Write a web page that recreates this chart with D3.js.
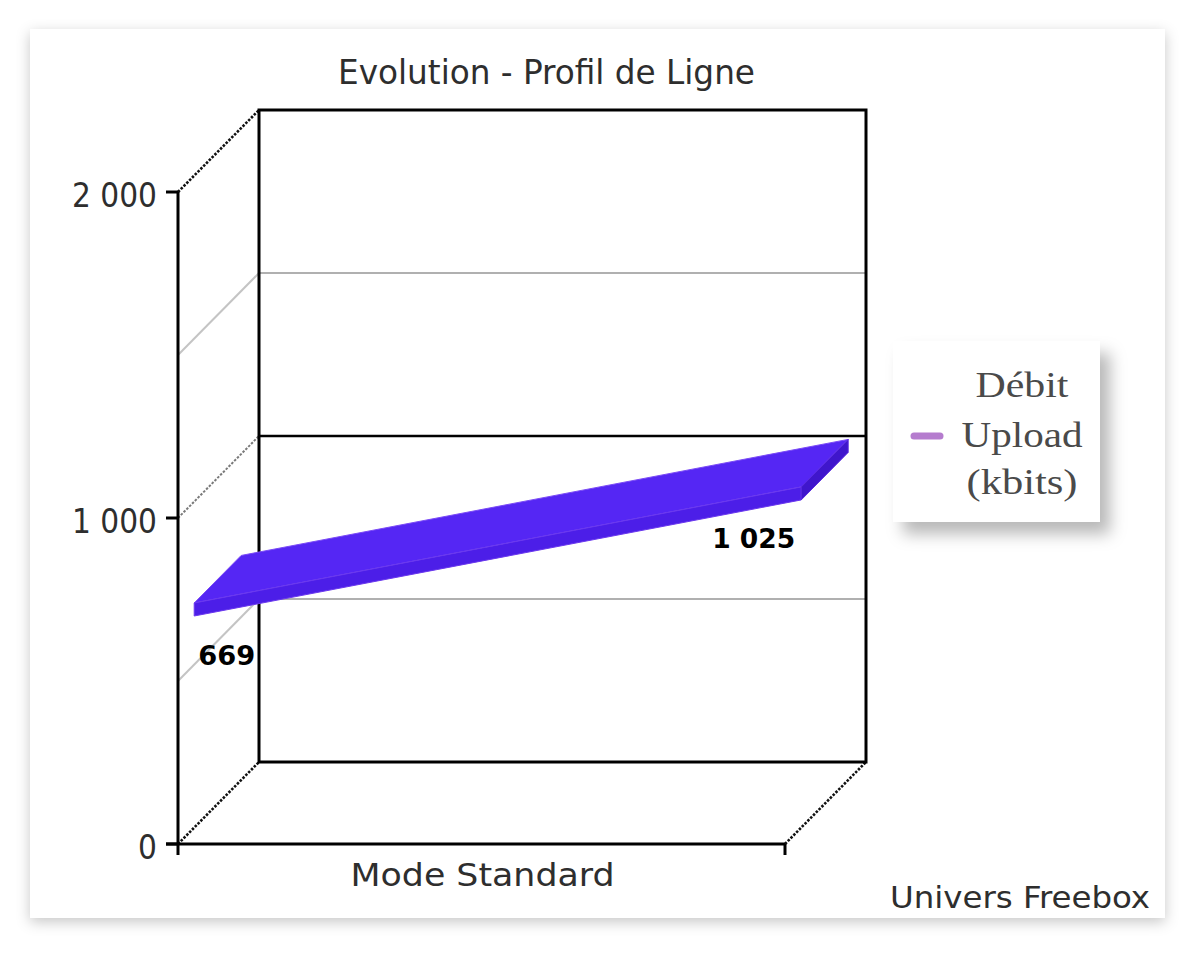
<!DOCTYPE html>
<html>
<head>
<meta charset="utf-8">
<script src="https://cdn.jsdelivr.net/npm/d3@7"></script>
<style>
  html, body { margin: 0; padding: 0; background: #ffffff; }
  svg { display: block; }
</style>
</head>
<body>
<svg id="chart" width="1200" height="953"></svg>
<script>
// ---- data ----
const title = "Evolution - Profil de Ligne";
const categories = ["Mode Standard"];
const seriesName = ["Débit", "Upload", "(kbits)"];
const uploadValues = [669, 1025];
const yTickValues = [0, 500, 1000, 1500, 2000];
const yLabelValues = [0, 1000, 2000];
const credit = "Univers Freebox";

// ---- setup ----
const svg = d3.select("#chart");
const fr = d3.formatLocale({decimal: ",", thousands: " ", grouping: [3], currency: ["", " €"]});
const fmt = fr.format(",d");

const defs = svg.append("defs");
const f1 = defs.append("filter").attr("id", "panelShadow").attr("x", "-10%").attr("y", "-10%").attr("width", "120%").attr("height", "120%");
f1.append("feDropShadow").attr("dx", 0).attr("dy", 4).attr("stdDeviation", 7).attr("flood-color", "#000").attr("flood-opacity", 0.22);
const f2 = defs.append("filter").attr("id", "legShadow").attr("x", "-20%").attr("y", "-20%").attr("width", "150%").attr("height", "150%");
f2.append("feDropShadow").attr("dx", 10).attr("dy", 12).attr("stdDeviation", 8).attr("flood-color", "#000").attr("flood-opacity", 0.28);

// panel
svg.append("rect").attr("x", 30).attr("y", 29).attr("width", 1135).attr("height", 889)
  .attr("fill", "#fff").attr("filter", "url(#panelShadow)");

// 3D geometry
const DX = 81, DY = -82;
const x = d3.scaleLinear().domain([0, uploadValues.length - 1]).range([178, 785]);
const y = d3.scaleLinear().domain([0, 2000]).range([844, 192]);
const P = (xv, yv, z) => [xv + DX * z, yv + DY * z];

const sans = "'DejaVu Sans Condensed', 'Liberation Sans Narrow', sans-serif";
const textCol = "#2e2e2e";

// title
svg.append("text").attr("x", 338).attr("y", 84).attr("font-family", sans).attr("font-size", 34)
  .attr("fill", textCol).attr("textLength", 417).attr("lengthAdjust", "spacingAndGlyphs").text(title);

const g = svg.append("g");
const x0 = x.range()[0], x1 = x.range()[1];

// back wall gridlines
yTickValues.filter(v => v > 0 && v < 2000).forEach(v => {
  const a = P(x0, y(v), 1), b = P(x1, y(v), 1);
  g.append("line").attr("x1", a[0]).attr("y1", a[1]).attr("x2", b[0]).attr("y2", b[1])
    .attr("stroke", v === 1000 ? "#000" : "#b0b0b0").attr("stroke-width", v === 1000 ? 2.6 : 2);
});

// side wall diagonals
yTickValues.forEach(v => {
  const a = P(x0, y(v), 0), b = P(x0, y(v), 1);
  const edge = (v === 0 || v === 2000);
  g.append("line").attr("x1", a[0]).attr("y1", a[1]).attr("x2", b[0]).attr("y2", b[1])
    .attr("stroke", edge ? "#111" : (v === 1000 ? "#7a7a7a" : "#c4c4c4"))
    .attr("stroke-width", edge ? 2.6 : 2)
    .attr("stroke-dasharray", edge || v === 1000 ? "2.5,1.5" : null);
});
// floor right diagonal
{
  const a = P(x1, y(0), 0), b = P(x1, y(0), 1);
  g.append("line").attr("x1", a[0]).attr("y1", a[1]).attr("x2", b[0]).attr("y2", b[1])
    .attr("stroke", "#111").attr("stroke-width", 2.6).attr("stroke-dasharray", "2.5,1.5");
}

// back wall rectangle
{
  const tl = P(x0, y(2000), 1), br = P(x1, y(0), 1);
  g.append("rect").attr("x", tl[0]).attr("y", tl[1]).attr("width", br[0] - tl[0]).attr("height", br[1] - tl[1])
    .attr("fill", "none").attr("stroke", "#000").attr("stroke-width", 3);
}

// front axes
g.append("line").attr("x1", x0).attr("y1", y(2000)).attr("x2", x0).attr("y2", y(0) + 11)
  .attr("stroke", "#000").attr("stroke-width", 3);
g.append("line").attr("x1", x0 - 12).attr("y1", y(0)).attr("x2", x1).attr("y2", y(0))
  .attr("stroke", "#000").attr("stroke-width", 3);
g.append("line").attr("x1", x1).attr("y1", y(0)).attr("x2", x1).attr("y2", y(0) + 11)
  .attr("stroke", "#000").attr("stroke-width", 3);
yLabelValues.forEach(v => {
  g.append("line").attr("x1", x0 - 12).attr("y1", y(v)).attr("x2", x0).attr("y2", y(v))
    .attr("stroke", "#000").attr("stroke-width", 3);
  g.append("text").attr("x", 157).attr("y", y(v) + 15).attr("text-anchor", "end")
    .attr("font-family", sans).attr("font-size", 33).attr("fill", textCol).text(fmt(v));
});

// category label
svg.append("text").attr("x", (x0 + x1) / 2 + 1).attr("y", 886).attr("text-anchor", "middle")
  .attr("font-family", sans).attr("font-size", 32).attr("fill", textCol)
  .attr("textLength", 264).attr("lengthAdjust", "spacingAndGlyphs").text(categories[0]);

// ribbon
const z1 = 0.2, z2 = 0.78, half = 6.5;
const n = uploadValues.length;
const front = uploadValues.map((v, i) => P(x(i), y(v), z1));
const back = uploadValues.map((v, i) => P(x(i), y(v), z2));
const rib = svg.append("g");
const topPts = front.map(p => [p[0], p[1] - half]).concat(back.slice().reverse().map(p => [p[0], p[1] - half]));
rib.append("path").attr("d", d3.line()(topPts) + "Z").attr("fill", "#5526f4").attr("stroke", "#7a4af6").attr("stroke-width", 1);
const frontPts = front.map(p => [p[0], p[1] - half]).concat(front.slice().reverse().map(p => [p[0], p[1] + half]));
rib.append("path").attr("d", d3.line()(frontPts) + "Z").attr("fill", "#4c1ee8").attr("stroke", "#6a38ee").attr("stroke-width", 1);
{
  const f = front[n - 1], b = back[n - 1];
  const pts = [[f[0], f[1] - half], [b[0], b[1] - half], [b[0], b[1] + half], [f[0], f[1] + half]];
  rib.append("path").attr("d", d3.line()(pts) + "Z").attr("fill", "#3f16cc").attr("stroke", "#5a2ae0").attr("stroke-width", 1);
}

// data labels
uploadValues.forEach((v, i) => {
  const p = front[i];
  const first = i === 0;
  svg.append("text").attr("x", first ? p[0] + 4 : p[0] - 6).attr("y", p[1] + 55)
    .attr("text-anchor", first ? "start" : "end")
    .attr("font-family", "'DejaVu Sans', sans-serif").attr("font-weight", "bold")
    .attr("font-size", 27).attr("fill", "#000")
    .attr("textLength", first ? 57 : 83).attr("lengthAdjust", "spacingAndGlyphs").text(fmt(v));
});

// legend
const leg = svg.append("g");
leg.append("rect").attr("x", 893).attr("y", 341).attr("width", 207).attr("height", 181)
  .attr("fill", "#fff").attr("filter", "url(#legShadow)");
leg.append("line").attr("x1", 914).attr("y1", 436).attr("x2", 940).attr("y2", 436)
  .attr("stroke", "#b57cce").attr("stroke-width", 7).attr("stroke-linecap", "round");
const legY = [397, 447, 494], legW = [93, 121, 111];
seriesName.forEach((t, i) => {
  leg.append("text").attr("x", 1022).attr("y", legY[i]).attr("text-anchor", "middle")
    .attr("font-family", "'Liberation Serif', 'DejaVu Serif', serif").attr("font-size", 36)
    .attr("fill", "#4a4a4a").attr("textLength", legW[i]).attr("lengthAdjust", "spacingAndGlyphs").text(t);
});

// credit
svg.append("text").attr("x", 1150).attr("y", 908).attr("text-anchor", "end")
  .attr("font-family", sans).attr("font-size", 31).attr("fill", textCol)
  .attr("textLength", 260).attr("lengthAdjust", "spacingAndGlyphs").text(credit);
</script>
</body>
</html>
